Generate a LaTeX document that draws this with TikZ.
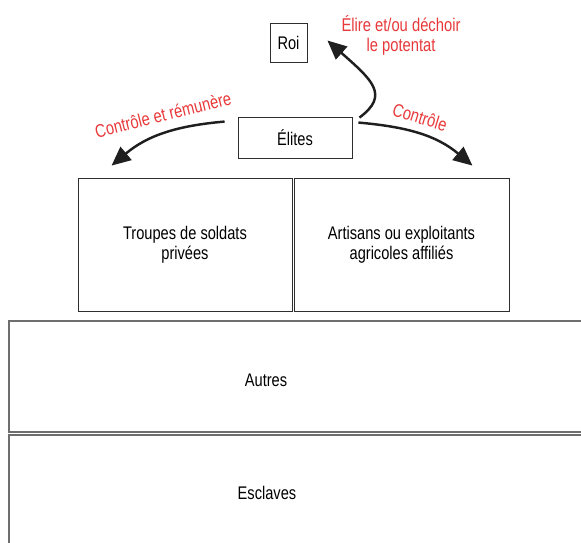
\documentclass[tikz,border=0pt]{standalone}
\usepackage{fontspec}
\setmainfont[FakeStretch=0.8]{Liberation Sans}
\usetikzlibrary{arrows.meta}
\definecolor{labred}{HTML}{E8383A}
\definecolor{boxline}{HTML}{2E2E2E}
\definecolor{layerline}{HTML}{6E6E6E}
\tikzset{
  box/.style={draw=boxline, line width=0.5pt, align=center, inner sep=0pt, font=\fontsize{10.4}{11.6}\selectfont},
  layer/.style={draw=layerline, line width=0.9pt},
  lab/.style={text=labred, align=center, font=\fontsize{10.5}{11.3}\selectfont},
  flow/.style={-{Triangle[length=0.38cm,width=0.34cm]}, line width=1.4pt, black!88}
}
\begin{document}
\begin{tikzpicture}
\useasboundingbox (0,0) rectangle (11.62,-10.84);
\clip (0,0) rectangle (11.62,-10.84);
% top of the pyramid
\node[box, minimum width=0.74cm, minimum height=0.78cm] (roi) at (5.77,-0.85) {Roi};
\node[box, minimum width=2.28cm, minimum height=0.82cm] (elites) at (5.9,-2.75) {Élites};
\node[box, minimum width=4.28cm, minimum height=2.66cm] (troupes) at (3.7,-4.89) {Troupes de soldats\\privées};
\node[box, minimum width=4.3cm, minimum height=2.66cm] (artisans) at (8.03,-4.89) {Artisans ou exploitants\\agricoles affiliés};
% lower layers
\draw[layer] (0.18,-6.42) rectangle (12,-8.64);
\node[box, draw=none] (autres) at (5.32,-7.6) {Autres};
\draw[layer] (0.18,-8.7) rectangle (12,-11.5);
\node[box, draw=none] (esclaves) at (5.34,-9.86) {Esclaves};
% arrow ends
\coordinate (gs) at ([xshift=-0.26cm,yshift=-0.1cm]elites.north west);
\coordinate (gt) at ([xshift=0.68cm,yshift=0.24cm]troupes.north west);
\coordinate (ds) at ([xshift=0.12cm,yshift=-0.12cm]elites.north east);
\coordinate (dt) at ([xshift=-0.74cm,yshift=0.24cm]artisans.north east);
\coordinate (hs) at ([xshift=0.14cm,yshift=-0.02cm]elites.north east);
\coordinate (ht) at ([xshift=0.4cm,yshift=0.04cm]roi.east);
\draw[flow] (gs) to[out=185, in=40] (gt);
\draw[flow] (ds) to[out=-5, in=140] (dt);
\draw[flow] (hs) .. controls (7.8,-1.9) and (7.44,-1.6) .. (ht);
% labels
\node[lab, rotate=14] (lgauche) at (3.26,-2.3) {Contrôle et rémunère};
\node[lab, rotate=-17] (ldroite) at (8.4,-2.34) {Contrôle};
\node[lab] (lhaut) at (8.02,-0.71) {Élire et/ou déchoir\\le potentat};
\end{tikzpicture}
\end{document}
